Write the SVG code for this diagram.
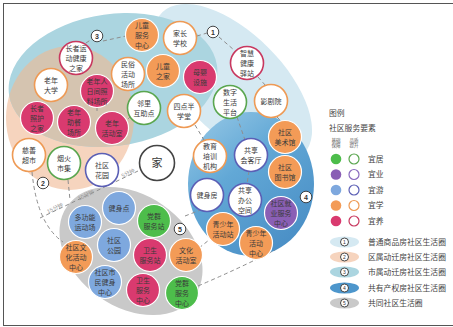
<svg xmlns="http://www.w3.org/2000/svg" width="453" height="327" viewBox="0 0 453 327">
<defs>
<style>
text{font-family:"Liberation Sans","Noto Sans CJK SC",sans-serif;fill:#3a3a3a;text-anchor:middle;dominant-baseline:central}
.nt{font-size:7px}
.fx{fill:#f39b57;stroke:#fff;stroke-width:1.2}
.fy{fill:#d93a6f;stroke:#fff;stroke-width:1.2}
.fp{fill:#8a5fb5;stroke:#fff;stroke-width:1.2}
.fb{fill:#7ea8de;stroke:#fff;stroke-width:1.2}
.fg{fill:#4dbd4b;stroke:#fff;stroke-width:1.2}
.wx{fill:#fff;stroke:#ee9a55;stroke-width:1.6}
.wy{fill:#fff;stroke:#c8385f;stroke-width:1.6}
.wg{fill:#fff;stroke:#5aa64f;stroke-width:1.6}
.wb{fill:#fff;stroke:#5b5fb5;stroke-width:1.6}
.dash{fill:none;stroke:#8e8e8e;stroke-width:1;stroke-dasharray:4 3}
.num{fill:#fff;stroke:#333;stroke-width:0.9}
.nn{font-size:7px;font-weight:700;fill:#333}
.lg{font-size:7.8px;text-anchor:start;fill:#444}
.mt{font-size:5.5px;fill:#9a9a9a}
</style>
<linearGradient id="g4" x1="0" y1="0" x2="0.7" y2="1">
<stop offset="0" stop-color="#9ccbe7"/>
<stop offset="0.45" stop-color="#62a8d6"/>
<stop offset="1" stop-color="#4a8fc6"/>
</linearGradient>
<clipPath id="clipTeal"><ellipse cx="113" cy="80" rx="105" ry="66" transform="rotate(-8 113 80)"/></clipPath>
</defs>
<rect x="0" y="0" width="453" height="327" fill="#fff"/>
<rect x="3.5" y="3.5" width="460" height="322" fill="none" stroke="#555" stroke-width="1"/>

<g id="regions">
<ellipse id="r1" cx="233" cy="83" rx="100" ry="50" transform="rotate(45 233 83)" fill="#d5e9f2"/>
<ellipse id="r2" cx="70" cy="118" rx="64" ry="72" fill="#f6d4be"/>
<ellipse id="r3" cx="113" cy="80" rx="105" ry="66" transform="rotate(-8 113 80)" fill="#abd5e0"/>
<ellipse cx="70" cy="118" rx="64" ry="72" fill="#d5c4b0" clip-path="url(#clipTeal)"/>
<ellipse id="r4" cx="251" cy="184" rx="63" ry="72" fill="url(#g4)"/>
<ellipse id="r5" cx="131" cy="251" rx="78" ry="56" transform="rotate(35 131 251)" fill="#c9c9c9"/>
</g>

<g id="connectors">
<path class="dash" d="M86,43 L92,39"/>
<path class="dash" d="M103,41 L126,36"/>
<path class="dash" d="M197,36 L207,33"/>
<path class="dash" d="M219,37 L234,50"/>
<path class="dash" d="M258,77 L266,86"/>
<path class="dash" d="M277,117 L281,121"/>
<path class="dash" d="M97,107 L97,113"/>
<path class="dash" d="M131,116 L123,124"/>
<path class="dash" d="M195,125 L204,140"/>
<path class="dash" d="M237,117 L245,140"/>
<path class="dash" d="M249,171 L247,184"/>
<path class="dash" d="M32,172 Q37,224 63,242"/>
<path class="dash" d="M68,180 L70,200"/>
<path class="dash" d="M198,286 Q240,268 275,250"/>
<path class="dash" d="M185,216 L203,209"/>
<path class="dash" d="M199,248 L209,240"/>
<path class="dash" d="M40,218 L138,171" stroke="#c4c4c4"/>
<text class="mt" x="55" y="208" transform="rotate(-25 55 208)">15分钟</text>
<text class="mt" x="86" y="195" transform="rotate(-25 86 195)">10分钟</text>
<text class="mt" x="128" y="173" transform="rotate(-25 128 173)">5分钟</text>
</g>

<g id="labels">
<g id="lab1"><circle class="num" cx="213" cy="32" r="5.8"/><text class="nn" x="213" y="32">1</text></g>
<g id="lab2"><circle class="num" cx="43" cy="183" r="5.8"/><text class="nn" x="43" y="183">2</text></g>
<g id="lab3"><circle class="num" cx="97" cy="36" r="5.8"/><text class="nn" x="97" y="36">3</text></g>
<g id="lab4"><circle class="num" cx="306" cy="197" r="5.8"/><text class="nn" x="306" y="197">4</text></g>
<g id="lab5"><circle class="num" cx="180" cy="229" r="5.8"/><text class="nn" x="180" y="229">5</text></g>
</g>

<g id="n1"><circle class="fx" cx="142" cy="35" r="16.5"/><text class="nt"><tspan x="142" y="25">儿童</tspan><tspan x="142" y="35">服务</tspan><tspan x="142" y="45">中心</tspan></text></g>
<g id="n2"><circle class="wx" cx="180" cy="38" r="16.5"/><text class="nt"><tspan x="180" y="33">家长</tspan><tspan x="180" y="43">学校</tspan></text></g>
<g id="n3"><circle class="wy" cx="76" cy="58" r="16.5"/><text class="nt"><tspan x="76" y="48">长者运</tspan><tspan x="76" y="58">动健康</tspan><tspan x="76" y="68">之家</tspan></text></g>
<g id="n4"><circle class="wx" cx="128" cy="74" r="16.5"/><text class="nt"><tspan x="128" y="64">民俗</tspan><tspan x="128" y="74">活动</tspan><tspan x="128" y="84">场所</tspan></text></g>
<g id="n5"><circle class="fx" cx="163" cy="71" r="16.5"/><text class="nt"><tspan x="163" y="66">儿童</tspan><tspan x="163" y="76">之家</tspan></text></g>
<g id="n6"><circle class="fy" cx="200" cy="77" r="16.5"/><text class="nt"><tspan x="200" y="72">母婴</tspan><tspan x="200" y="82">设施</tspan></text></g>
<g id="n7"><circle class="wy" cx="247" cy="63" r="16.5"/><text class="nt"><tspan x="247" y="53">智慧</tspan><tspan x="247" y="63">健康</tspan><tspan x="247" y="73">驿站</tspan></text></g>
<g id="n8"><circle class="wx" cx="51" cy="85" r="16.5"/><text class="nt"><tspan x="51" y="80">老年</tspan><tspan x="51" y="90">大学</tspan></text></g>
<g id="n9"><circle class="fy" cx="97" cy="91" r="16.5"/><text class="nt"><tspan x="97" y="81">老年人</tspan><tspan x="97" y="91">日间照</tspan><tspan x="97" y="101">料场所</tspan></text></g>
<g id="n10"><circle class="wg" cx="144" cy="108" r="16.5"/><text class="nt"><tspan x="144" y="103">邻里</tspan><tspan x="144" y="113">互助点</tspan></text></g>
<g id="n11"><circle class="wx" cx="184" cy="111" r="16.5"/><text class="nt"><tspan x="184" y="106">四点半</tspan><tspan x="184" y="116">学堂</tspan></text></g>
<g id="n12"><circle class="wg" cx="230" cy="102" r="16.5"/><text class="nt"><tspan x="230" y="92">数字</tspan><tspan x="230" y="102">生活</tspan><tspan x="230" y="112">平台</tspan></text></g>
<g id="n13"><circle class="wx" cx="271" cy="101" r="16.5"/><text class="nt" x="271" y="101">影剧院</text></g>
<g id="n14"><circle class="fy" cx="37" cy="118" r="16.5"/><text class="nt"><tspan x="37" y="108">长者</tspan><tspan x="37" y="118">照护</tspan><tspan x="37" y="128">之家</tspan></text></g>
<g id="n15"><circle class="fy" cx="74" cy="122" r="16.5"/><text class="nt"><tspan x="74" y="112">老年</tspan><tspan x="74" y="122">助餐</tspan><tspan x="74" y="132">场所</tspan></text></g>
<g id="n16"><circle class="fy" cx="112" cy="128" r="16.5"/><text class="nt"><tspan x="112" y="123">老年</tspan><tspan x="112" y="133">活动室</tspan></text></g>
<g id="n17"><circle class="wx" cx="29" cy="155" r="16.5"/><text class="nt"><tspan x="29" y="150">慈善</tspan><tspan x="29" y="160">超市</tspan></text></g>
<g id="n18"><circle class="wg" cx="64" cy="163" r="16.5"/><text class="nt"><tspan x="64" y="158">烟火</tspan><tspan x="64" y="168">市集</tspan></text></g>
<g id="n19"><circle class="wb" cx="102" cy="170" r="16.5"/><text class="nt"><tspan x="102" y="165">社区</tspan><tspan x="102" y="175">花园</tspan></text></g>
<g id="n20"><circle cx="157" cy="163" r="17.5" fill="#fff" stroke="#444" stroke-width="1.6"/><text x="157" y="163" style="font-size:11px">家</text></g>
<g id="n21"><circle class="wx" cx="210" cy="156" r="16.5"/><text class="nt"><tspan x="210" y="146">教育</tspan><tspan x="210" y="156">培训</tspan><tspan x="210" y="166">机构</tspan></text></g>
<g id="n22"><circle class="wb" cx="251" cy="155" r="16.5"/><text class="nt"><tspan x="251" y="150">共享</tspan><tspan x="251" y="160">会客厅</tspan></text></g>
<g id="n23"><circle class="fx" cx="285" cy="137" r="16.5"/><text class="nt"><tspan x="285" y="132">社区</tspan><tspan x="285" y="142">美术馆</tspan></text></g>
<g id="n24"><circle class="fx" cx="285" cy="172" r="16.5"/><text class="nt"><tspan x="285" y="167">社区</tspan><tspan x="285" y="177">图书馆</tspan></text></g>
<g id="n25"><circle class="wb" cx="207" cy="195" r="16.5"/><text class="nt" x="207" y="195">健身房</text></g>
<g id="n26"><circle class="wb" cx="245" cy="200" r="16.5"/><text class="nt"><tspan x="245" y="190">共享</tspan><tspan x="245" y="200">办公</tspan><tspan x="245" y="210">空间</tspan></text></g>
<g id="n27"><circle class="fp" cx="281" cy="213" r="16.5"/><text class="nt"><tspan x="281" y="203">社区就</tspan><tspan x="281" y="213">业服务</tspan><tspan x="281" y="223">中心</tspan></text></g>
<g id="n28"><circle class="fx" cx="223" cy="229" r="16.5"/><text class="nt"><tspan x="223" y="224">青少年</tspan><tspan x="223" y="234">活动站</tspan></text></g>
<g id="n29"><circle class="fx" cx="256" cy="243" r="16.5"/><text class="nt"><tspan x="256" y="233">青少年</tspan><tspan x="256" y="243">活动</tspan><tspan x="256" y="253">中心</tspan></text></g>
<g id="n30"><circle class="fb" cx="119" cy="208" r="16.5"/><text class="nt" x="119" y="208">健身点</text></g>
<g id="n31"><circle class="fb" cx="85" cy="222" r="16.5"/><text class="nt"><tspan x="85" y="217">多功能</tspan><tspan x="85" y="227">运动场</tspan></text></g>
<g id="n32"><circle class="fg" cx="154" cy="221" r="16.5"/><text class="nt"><tspan x="154" y="216">党群</tspan><tspan x="154" y="226">服务站</tspan></text></g>
<g id="n33"><circle class="fb" cx="114" cy="245" r="16.5"/><text class="nt"><tspan x="114" y="240">社区</tspan><tspan x="114" y="250">公园</tspan></text></g>
<g id="n34"><circle class="fx" cx="76" cy="257" r="16.5"/><text class="nt"><tspan x="76" y="247">社区文</tspan><tspan x="76" y="257">化活动</tspan><tspan x="76" y="267">中心</tspan></text></g>
<g id="n35"><circle class="fy" cx="150" cy="255" r="16.5"/><text class="nt"><tspan x="150" y="250">卫生</tspan><tspan x="150" y="260">服务站</tspan></text></g>
<g id="n36"><circle class="fx" cx="186" cy="255" r="16.5"/><text class="nt"><tspan x="186" y="250">文化</tspan><tspan x="186" y="260">活动室</tspan></text></g>
<g id="n37"><circle class="fb" cx="105" cy="282" r="16.5"/><text class="nt"><tspan x="105" y="272">社区市</tspan><tspan x="105" y="282">民健身</tspan><tspan x="105" y="292">中心</tspan></text></g>
<g id="n38"><circle class="fy" cx="143" cy="290" r="16.5"/><text class="nt"><tspan x="143" y="280">卫生</tspan><tspan x="143" y="290">服务</tspan><tspan x="143" y="300">中心</tspan></text></g>
<g id="n39"><circle class="fg" cx="182" cy="293" r="16.5"/><text class="nt"><tspan x="182" y="283">党群</tspan><tspan x="182" y="293">服务</tspan><tspan x="182" y="303">中心</tspan></text></g>

<g id="legend">
<text class="lg" x="329" y="113">图例</text>
<text class="lg" x="329" y="128">社区服务要素</text>
<text style="font-size:4.6px;fill:#555"><tspan x="336" y="139.5">基础</tspan><tspan x="336" y="145">保障</tspan><tspan x="354" y="139.5">品质</tspan><tspan x="354" y="145">提升</tspan></text>
<circle cx="336" cy="159" r="5.3" fill="#4dbd4b"/><circle cx="354" cy="159" r="5" fill="#fff" stroke="#5aa64f" stroke-width="1.2"/><text class="lg" x="368" y="159">宜居</text>
<circle cx="336" cy="174.5" r="5.3" fill="#8a5fb5"/><circle cx="354" cy="174.5" r="5" fill="#fff" stroke="#8a6bbf" stroke-width="1.2"/><text class="lg" x="368" y="174.5">宜业</text>
<circle cx="336" cy="190" r="5.3" fill="#7ea8de"/><circle cx="354" cy="190" r="5" fill="#fff" stroke="#5b5fb5" stroke-width="1.2"/><text class="lg" x="368" y="190">宜游</text>
<circle cx="336" cy="205.5" r="5.3" fill="#f39b57"/><circle cx="354" cy="205.5" r="5" fill="#fff" stroke="#ee9a55" stroke-width="1.2"/><text class="lg" x="368" y="205.5">宜学</text>
<circle cx="336" cy="221" r="5.3" fill="#d93a6f"/><circle cx="354" cy="221" r="5" fill="#fff" stroke="#c8385f" stroke-width="1.2"/><text class="lg" x="368" y="221">宜养</text>

<ellipse cx="344.5" cy="242" rx="14.5" ry="5.5" fill="#d5e9f2"/><circle class="num" cx="344.5" cy="242" r="4"/><text x="344.5" y="242" style="font-size:5px;fill:#333">1</text><text class="lg" x="368" y="242">普通商品房社区生活圈</text>
<ellipse cx="344.5" cy="257" rx="14.5" ry="5.5" fill="#f6d4be"/><circle class="num" cx="344.5" cy="257" r="4"/><text x="344.5" y="257" style="font-size:5px;fill:#333">2</text><text class="lg" x="368" y="257">区属动迁房社区生活圈</text>
<ellipse cx="344.5" cy="272" rx="14.5" ry="5.5" fill="#abd5e0"/><circle class="num" cx="344.5" cy="272" r="4"/><text x="344.5" y="272" style="font-size:5px;fill:#333">3</text><text class="lg" x="368" y="272">市属动迁房社区生活圈</text>
<ellipse cx="344.5" cy="288" rx="14.5" ry="5.5" fill="#4d96cc"/><circle class="num" cx="344.5" cy="288" r="4"/><text x="344.5" y="288" style="font-size:5px;fill:#333">4</text><text class="lg" x="368" y="288">共有产权房社区生活圈</text>
<ellipse cx="344.5" cy="303" rx="14.5" ry="5.5" fill="#c9c9c9"/><circle class="num" cx="344.5" cy="303" r="4"/><text x="344.5" y="303" style="font-size:5px;fill:#333">5</text><text class="lg" x="368" y="303">共同社区生活圈</text>
</g>
</svg>
